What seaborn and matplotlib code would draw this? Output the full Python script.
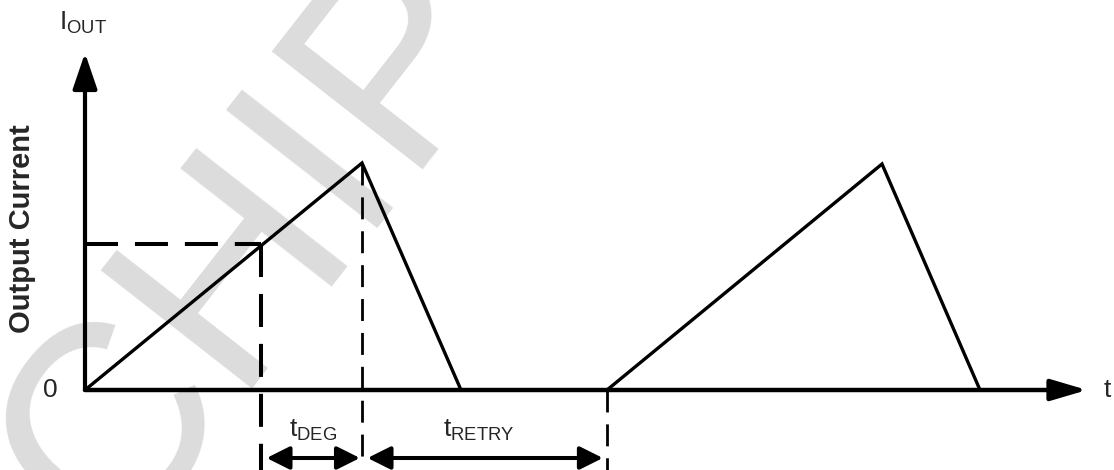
import matplotlib
matplotlib.use("Agg")
import matplotlib.pyplot as plt
import seaborn as sns

# waveform (time in arbitrary units, current in arbitrary units)
t_wave = [0, 27.7, 37.6, 52.2, 79.7, 89.5]
i_wave = [0, 2.27, 0, 0, 2.26, 0]

t_limit = 17.6      # current reaches the limit here
i_limit = 1.46
t_peak = 27.7       # end of deglitch time
t_retry = 52.2      # end of retry time

sns.set_style("white")
plt.rcParams['font.family'] = ['Liberation Sans', 'DejaVu Sans']
plt.rcParams['mathtext.fontset'] = 'custom'
plt.rcParams['mathtext.rm'] = 'Liberation Sans'

fig = plt.figure(figsize=(11.14, 4.70), dpi=100)
ax = fig.add_axes([0, 0, 1, 1])
ax.set_xlim(-8.5, 102.9)
ax.set_ylim(-0.8, 3.9)
ax.axis('off')

# watermark
ax.text(17.3, 1.43, "CHIP", fontsize=200, color='#dcdcdc',
        rotation=52, rotation_mode='anchor', ha='center', va='center', zorder=0)

# axes with arrows
ax.annotate('', xy=(0, 3.37), xytext=(0, 0),
            arrowprops=dict(arrowstyle='-|>,head_length=2.2,head_width=0.75', lw=3,
                            color='black', shrinkA=0, shrinkB=0, mutation_scale=10))
ax.annotate('', xy=(100.2, 0), xytext=(0, 0),
            arrowprops=dict(arrowstyle='-|>,head_length=2.2,head_width=0.65', lw=3.2,
                            color='black', shrinkA=0, shrinkB=0, mutation_scale=10))

# output current waveform
sns.lineplot(x=t_wave, y=i_wave, color='black', linewidth=2.4, ax=ax,
             sort=False, estimator=None, legend=False, solid_joinstyle='miter')

# dashed guides
ax.plot([0, t_limit], [i_limit, i_limit], color='black', lw=2.9, dashes=(8.2, 4.2))
ax.plot([t_limit, t_limit], [i_limit, -0.8], color='black', lw=2.9, dashes=(8.2, 4.2))
ax.plot([t_peak, t_peak], [max(i_wave[:3]), -0.75], color='black', lw=2.0, dashes=(7.9, 4.3))
ax.plot([t_retry, t_retry], [0, -0.8], color='black', lw=2.0, dashes=(7.9, 4.3))

# timing arrows
ax.annotate('', xy=(t_peak, -0.68), xytext=(t_limit, -0.68),
            arrowprops=dict(arrowstyle='<|-|>,head_length=1.4,head_width=0.7', lw=2.9,
                            color='black', shrinkA=4, shrinkB=1.5, mutation_scale=10))
ax.annotate('', xy=(t_retry, -0.68), xytext=(t_peak, -0.68),
            arrowprops=dict(arrowstyle='<|-|>,head_length=1.4,head_width=0.7', lw=2.9,
                            color='black', shrinkA=4, shrinkB=3, mutation_scale=10))

# labels
ax.text(22.8, -0.47, r'$\mathregular{t_{DEG}}$', fontsize=19, ha='center', va='baseline')
ax.text(39.4, -0.47, r'$\mathregular{t_{RETRY}}$', fontsize=19, ha='center', va='baseline')
ax.text(-2.6, 3.6, r'$\mathregular{I_{OUT}}$', fontsize=19, ha='left', va='baseline')
ax.text(-3.5, 0, '0', fontsize=19, ha='center', va='center')
ax.text(102.2, 0, 't', fontsize=19, ha='center', va='center')
ax.text(-6.3, 1.61, 'Output Current', fontsize=21, fontweight='bold',
        rotation=90, ha='center', va='center')

fig.savefig("out.png", dpi=100)
